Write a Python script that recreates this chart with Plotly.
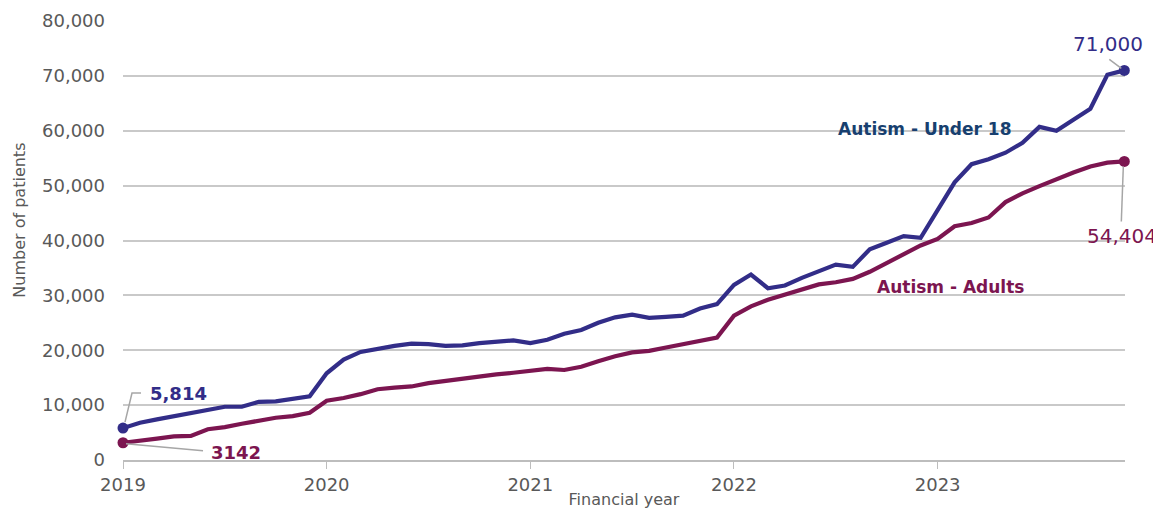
import plotly.graph_objects as go

# ---------------------------
# Data (monthly, Jan 2019 - Dec 2023)
# ---------------------------
start_year = 2019
under18 = [5814, 6800, 7400, 8000, 8600, 9200, 9700, 9700, 10600, 10700, 11200, 11600,
           15800, 18300, 19700, 20300, 20800, 21200, 21100, 20800, 20900, 21300, 21600, 21800,
           21300, 21900, 23000, 23700, 25000, 26000, 26500, 25900, 26100, 26300, 27600, 28400,
           31900, 33800, 31300, 31800, 33200, 34400, 35600, 35200, 38400, 39600, 40800, 40500,
           45600, 50600, 53900, 54800, 56000, 57800, 60700, 60000, 62000, 64000, 70200, 71000]
adults = [3142, 3450, 3900, 4300, 4400, 5600, 6000, 6600, 7200, 7700, 8000, 8600,
          10800, 11300, 12000, 12900, 13200, 13400, 14000, 14400, 14800, 15300, 15600, 15900,
          16200, 16600, 16400, 17000, 18000, 18900, 19600, 19900, 20500, 21100, 21600, 22300,
          26300, 28000, 29200, 30200, 31200, 32000, 32400, 33000, 34300, 35900, 37500, 39100,
          40300, 42600, 43200, 44200, 47000, 48600, 49900, 51200, 52400, 53500, 54200, 54404]
year_ticks = [2019, 2020, 2021, 2022, 2023]
y_ticks = [0, 10000, 20000, 30000, 40000, 50000, 60000, 70000, 80000]

x = [start_year + i / 12 for i in range(len(under18))]

BLUE = "#322d88"
MAROON = "#7c1550"
NAVY = "#173f6f"
GREY_TXT = "#595959"
LEADER = "#a6a6a6"
FONT = "DejaVu Sans"

fig = go.Figure()
fig.add_trace(go.Scatter(x=x, y=under18, mode="lines", name="Autism - Under 18",
                         line=dict(color=BLUE, width=4.2), showlegend=False))
fig.add_trace(go.Scatter(x=x, y=adults, mode="lines", name="Autism - Adults",
                         line=dict(color=MAROON, width=4.2), showlegend=False))
# end-point markers
fig.add_trace(go.Scatter(x=[x[0], x[-1]], y=[under18[0], under18[-1]], mode="markers",
                         marker=dict(color=BLUE, size=11), showlegend=False, cliponaxis=False))
fig.add_trace(go.Scatter(x=[x[0], x[-1]], y=[adults[0], adults[-1]], mode="markers",
                         marker=dict(color=MAROON, size=11), showlegend=False, cliponaxis=False))


def leader(xa, ya, path):
    # leader line drawn in pixels relative to a data point
    return dict(type="path", xref="x", yref="y", xsizemode="pixel", ysizemode="pixel",
                xanchor=xa, yanchor=ya, path=path, line=dict(color=LEADER, width=1.5), layer="above")


shapes = [
    leader(x[0], under18[0], "M2,6 L9,35 L18,35"),
    leader(x[0], adults[0], "M3,-1 L80,-8"),
    leader(x[-1], under18[-1], "M-15,11 L-3,2"),
    leader(x[-1], adults[-1], "M-1,-5 L-3,-60"),
]

annotations = [
    dict(x=x[0], y=under18[0], text=f"{under18[0]:,}", showarrow=False, xanchor="left", yanchor="middle",
         xshift=25, yshift=35, font=dict(family=FONT, size=18, color=BLUE, weight="bold")),
    dict(x=x[0], y=adults[0], text=f"{adults[0]}", showarrow=False, xanchor="left", yanchor="middle",
         xshift=86, yshift=-10, font=dict(family=FONT, size=18, color=MAROON, weight="bold")),
    dict(x=x[-1], y=under18[-1], text=f"{under18[-1]:,}", showarrow=False, xanchor="center", yanchor="middle",
         xshift=-16, yshift=26, font=dict(family=FONT, size=20, color=BLUE)),
    dict(x=x[-1], y=adults[-1], text=f"{adults[-1]:,}", showarrow=False, xanchor="center", yanchor="middle",
         xshift=-2, yshift=-75, font=dict(family=FONT, size=20, color=MAROON)),
    dict(x=2022.94, y=60300, text="Autism - Under 18", showarrow=False, xanchor="center", yanchor="middle",
         font=dict(family=FONT, size=17, color=NAVY, weight="bold")),
    dict(x=2023.065, y=31500, text="Autism - Adults", showarrow=False, xanchor="center", yanchor="middle",
         font=dict(family=FONT, size=17, color=MAROON, weight="bold")),
    dict(x=-0.103, y=0.547, xref="paper", yref="paper", text="Number of patients", textangle=-90,
         showarrow=False, xanchor="center", yanchor="middle", font=dict(family=FONT, size=16, color=GREY_TXT)),
]

# page body has an 8px margin, so the figure is sized to sit inside the window
fig.update_layout(
    width=1153, height=506,
    margin=dict(l=115, r=36, t=13, b=54),
    plot_bgcolor="white", paper_bgcolor="white",
    font=dict(family=FONT, color=GREY_TXT),
    shapes=shapes, annotations=annotations,
    xaxis=dict(range=[2019, 2023.92], tickvals=year_ticks, ticktext=[str(v) for v in year_ticks],
               showgrid=False, zeroline=False, showline=True, linecolor="#bdbdbd", linewidth=2,
               ticks="outside", ticklen=7, tickwidth=1, tickcolor="#bdbdbd", automargin=False,
               tickfont=dict(size=18, color=GREY_TXT), ticklabelstandoff=0,
               title=dict(text="Financial year", font=dict(size=16, color=GREY_TXT), standoff=0)),
    yaxis=dict(range=[0, 80000], tickvals=y_ticks, tickformat=",", showgrid=True, automargin=False,
               gridcolor="#c9c9c9", gridwidth=2, zeroline=False, showline=False,
               tickfont=dict(size=18, color=GREY_TXT), ticklabelstandoff=17),
)

fig.write_html("out.html")
